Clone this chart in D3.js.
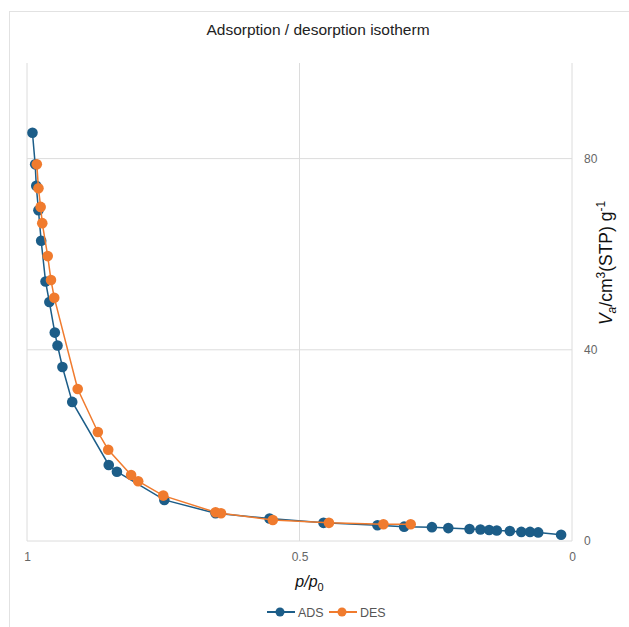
<!DOCTYPE html>
<html>
<head>
<meta charset="utf-8">
<script src="https://cdn.jsdelivr.net/npm/d3@7"></script>
<style>
  body { margin:0; background:#fff; }
  svg { font-family: "Liberation Sans", Arial, sans-serif; }
  .tick text { fill:#666; font-size:12px; }
  .grid line { stroke:#dcdcdc; stroke-width:1; }
</style>
</head>
<body>
<svg id="isotherm"></svg>
<script>
// relative pressure p/p0 and adsorbed volume
var adsP = [0.990,0.985,0.983,0.979,0.974,0.966,0.959,0.949,0.944,0.935,0.917,0.850,0.835,0.748,0.654,0.555,0.456,0.357,0.308,0.257,0.227,0.188,0.168,0.152,0.138,0.114,0.093,0.077,0.062,0.020]
var adsV = [85.4,78.8,74.3,69.2,62.8,54.3,50.0,43.6,40.9,36.4,29.1,15.9,14.5,8.6,5.8,4.7,3.8,3.3,3.0,2.9,2.7,2.5,2.4,2.3,2.2,2.1,1.9,1.9,1.8,1.3]
var desP = [0.982,0.979,0.975,0.972,0.962,0.956,0.950,0.907,0.870,0.851,0.809,0.796,0.750,0.654,0.644,0.549,0.446,0.346,0.296]
var desV = [78.8,73.8,69.9,66.5,59.6,54.6,50.9,31.8,22.8,19.1,13.8,12.5,9.5,6.0,5.8,4.4,3.8,3.5,3.5]
var xTicks = [1,0.5,0]
var yTicks = [0,40,80]
var seriesNames = ["ADS","DES"]
var seriesColors = ["#1c5d88","#f07b2e"]

var screen = {width:629,height:627}
var margins = {left:27,right:57,top:63,bottom:86}
var graph = {
    width:screen.width-margins.left-margins.right,
    height:screen.height-margins.top-margins.bottom
}

var svg = d3.select("#isotherm")
    .attr("width",screen.width)
    .attr("height",screen.height)

// outer frame
svg.append("rect")
    .attr("x",9.5).attr("y",11.5)
    .attr("width",700).attr("height",700)
    .attr("fill","none")
    .attr("stroke","#e2e2e2")

svg.append("text")
    .text("Adsorption / desorption isotherm")
    .attr("x",318).attr("y",35)
    .attr("text-anchor","middle")
    .attr("font-size","15.5px")
    .attr("fill","#222")

var xScale = d3.scaleLinear().domain([1,0]).range([0,graph.width])
var yScale = d3.scaleLinear().domain([0,100]).range([graph.height,0])

var target = svg.append("g")
    .attr("transform","translate("+margins.left+","+margins.top+")")

// grid
var grid = target.append("g").classed("grid",true)
grid.selectAll("line.v").data(xTicks).enter().append("line")
    .attr("x1",function(d){return xScale(d)}).attr("x2",function(d){return xScale(d)})
    .attr("y1",0).attr("y2",graph.height)
grid.selectAll("line.h").data(yTicks).enter().append("line")
    .attr("y1",function(d){return yScale(d)}).attr("y2",function(d){return yScale(d)})
    .attr("x1",0).attr("x2",graph.width)

// axes (labels only)
var xAxis = d3.axisBottom(xScale).tickValues(xTicks).tickSize(0).tickPadding(11)
    .tickFormat(function(d){return d3.format("")(d)})
var yAxis = d3.axisRight(yScale).tickValues(yTicks).tickSize(0).tickPadding(12)

target.append("g").attr("transform","translate(0,"+graph.height+")").call(xAxis)
    .call(function(g){g.select(".domain").remove()})
target.append("g").attr("transform","translate("+graph.width+",0)").call(yAxis)
    .call(function(g){g.select(".domain").remove()})

// series
var series = [
    {name:seriesNames[0],color:seriesColors[0],pts:adsP.map(function(p,i){return {p:p,v:adsV[i]}})},
    {name:seriesNames[1],color:seriesColors[1],pts:desP.map(function(p,i){return {p:p,v:desV[i]}})}
]
var line = d3.line()
    .x(function(d){return xScale(d.p)})
    .y(function(d){return yScale(d.v)})

series.forEach(function(s)
{
    var g = target.append("g")
    g.append("path")
        .datum(s.pts)
        .attr("d",line)
        .attr("fill","none")
        .attr("stroke",s.color)
        .attr("stroke-width",1.5)
    g.selectAll("circle").data(s.pts).enter().append("circle")
        .attr("cx",function(d){return xScale(d.p)})
        .attr("cy",function(d){return yScale(d.v)})
        .attr("r",5.3)
        .attr("fill",s.color)
})

// axis titles
var xl = svg.append("text")
    .attr("x",margins.left+graph.width/2+10).attr("y",587)
    .attr("text-anchor","middle")
    .attr("font-size","16px").attr("font-style","italic").attr("fill","#111")
xl.append("tspan").text("p/p")
xl.append("tspan").text("0").attr("font-size","11px").attr("font-style","normal").attr("dy",4)

var yl = svg.append("text")
    .attr("transform","translate(612,263) rotate(-90)")
    .attr("text-anchor","middle")
    .attr("font-size","17.5px").attr("fill","#111")
yl.append("tspan").text("V").attr("font-style","italic")
yl.append("tspan").text("a").attr("font-style","italic").attr("font-size","12px").attr("dy",4)
yl.append("tspan").text("/cm").attr("dy",-4)
yl.append("tspan").text("3").attr("font-size","12px").attr("dy",-7)
yl.append("tspan").text("(STP) g").attr("dy",7)
yl.append("tspan").text("-1").attr("font-size","12px").attr("dy",-7)

// legend
var legend = svg.append("g").attr("transform","translate(267,612)")
var entries = legend.selectAll("g").data(series).enter().append("g")
    .attr("transform",function(d,i){return "translate("+(i*62)+",0)"})
entries.append("line").attr("x1",0).attr("x2",28).attr("y1",0).attr("y2",0)
    .attr("stroke",function(d){return d.color}).attr("stroke-width",2)
entries.append("circle").attr("cx",13).attr("cy",0).attr("r",4.5)
    .attr("fill",function(d){return d.color})
entries.append("text").text(function(d){return d.name})
    .attr("x",31).attr("y",4.5)
    .attr("font-size","12.5px").attr("fill","#555")
</script>
</body>
</html>
